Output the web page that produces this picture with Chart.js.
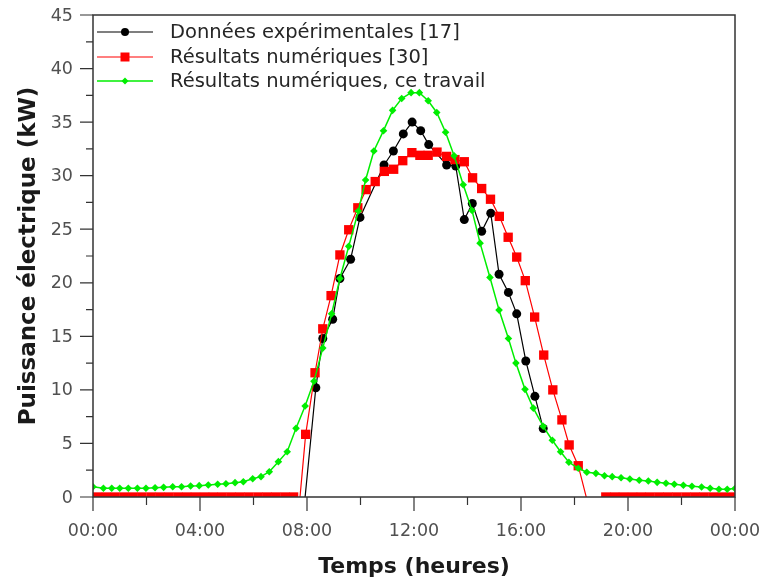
<!DOCTYPE html>
<html lang="fr">
<head>
<meta charset="utf-8">
<title>Puissance électrique</title>
<script src="https://cdn.jsdelivr.net/npm/chart.js@4.4.1/dist/chart.umd.min.js"></script>
<style>
  html, body { margin: 0; padding: 0; background: #fff; }
  #wrap { width: 766px; height: 580px; position: relative; }
</style>
</head>
<body>
<div id="wrap"><canvas id="powerChart" width="766" height="580"></canvas></div>
<script>
// Experimental data [17] : time (h) / power (kW)
const expTimes = [7.89, 8.33, 8.59, 8.96, 9.23, 9.63, 9.98, 10.88, 11.23, 11.60, 11.93, 12.25, 12.55,
  13.22, 13.56, 13.88, 14.18, 14.53, 14.87, 15.18, 15.53, 15.84, 16.18, 16.52, 16.83];
const expPower = [-1, 10.2, 14.8, 16.6, 20.4, 22.2, 26.1, 31.0, 32.3, 33.9, 35.0, 34.2, 32.9,
  31.0, 30.9, 25.9, 27.4, 24.8, 26.5, 20.8, 19.1, 17.1, 12.7, 9.4, 6.4];

// Numerical results [30]
const refTimes = [0.17, 0.50, 0.83, 1.17, 1.50, 1.83, 2.17, 2.50, 2.83, 3.17, 3.50, 3.83, 4.17, 4.50, 4.83,
  5.17, 5.50, 5.83, 6.17, 6.50, 6.83, 7.17, 7.50, 7.72,
  7.95, 8.30, 8.59, 8.90, 9.23, 9.56, 9.90, 10.21, 10.55, 10.89, 11.24, 11.58, 11.92, 12.22, 12.53, 12.86,
  13.22, 13.53, 13.88, 14.19, 14.53, 14.86, 15.19, 15.52, 15.84, 16.16, 16.51, 16.85, 17.19, 17.53, 17.80,
  18.14, 18.50,
  19.17, 19.50, 19.83, 20.17, 20.50, 20.83, 21.17, 21.50, 21.83, 22.17, 22.50, 22.83, 23.17, 23.50, 23.83];
const refPower = [0, 0, 0, 0, 0, 0, 0, 0, 0, 0, 0, 0, 0, 0, 0,
  0, 0, 0, 0, 0, 0, 0, 0, -0.5,
  5.85, 11.6, 15.7, 18.8, 22.6, 24.95, 27.0, 28.7, 29.45, 30.4, 30.6, 31.4, 32.15, 31.9, 31.9, 32.2,
  31.8, 31.5, 31.3, 29.8, 28.8, 27.8, 26.2, 24.25, 22.4, 20.2, 16.8, 13.25, 10.0, 7.2, 4.86,
  2.92, -0.6,
  0, 0, 0, 0, 0, 0, 0, 0, 0, 0, 0, 0, 0, 0, 0];

// Numerical results, this work
const simTimes = [0.00, 0.39, 0.70, 1.00, 1.32, 1.66, 1.98, 2.32, 2.64, 2.98, 3.31, 3.65, 3.97, 4.31, 4.66,
  4.97, 5.31, 5.62, 5.97, 6.28, 6.59, 6.93, 7.26, 7.59, 7.93, 8.26, 8.59, 8.92, 9.23, 9.56,
  9.92, 10.19, 10.50, 10.86, 11.20, 11.54, 11.89, 12.20, 12.53, 12.85, 13.18, 13.50, 13.84, 14.17, 14.47,
  14.84, 15.18, 15.53, 15.81, 16.15, 16.46, 16.83, 17.17, 17.48, 17.79, 18.14, 18.46, 18.80, 19.12, 19.41,
  19.74, 20.07, 20.42, 20.76, 21.09, 21.42, 21.73, 22.07, 22.39, 22.75, 23.07, 23.40, 23.71, 24.00];
const simPower = [0.96, 0.81, 0.81, 0.81, 0.81, 0.81, 0.81, 0.87, 0.90, 0.96, 0.96, 1.03, 1.06, 1.12, 1.19,
  1.24, 1.34, 1.43, 1.70, 1.90, 2.36, 3.30, 4.23, 6.41, 8.50, 10.8, 13.9, 17.1, 20.4, 23.4,
  26.7, 29.6, 32.3, 34.2, 36.1, 37.2, 37.75, 37.75, 37.0, 35.9, 34.05, 31.85, 29.15, 26.75, 23.7,
  20.5, 17.45, 14.8, 12.5, 10.05, 8.3, 6.6, 5.3, 4.23, 3.25, 2.68, 2.31, 2.21, 1.99, 1.90,
  1.80, 1.68, 1.56, 1.49, 1.37, 1.28, 1.19, 1.09, 1.00, 0.93, 0.81, 0.72, 0.72, 0.80];

const seriesNames = ['Données expérimentales [17]', 'Résultats numériques [30]', 'Résultats numériques, ce travail'];
const xTickHours = [0, 4, 8, 12, 16, 20, 24];
const xTickLabels = ['00:00', '04:00', '08:00', '12:00', '16:00', '20:00', '00:00'];
const yTickValues = [0, 5, 10, 15, 20, 25, 30, 35, 40, 45];
const xTitle = 'Temps (heures)';
const yTitle = 'Puissance électrique (kW)';

const FONT = '"DejaVu Sans", "Open Sans", sans-serif';
const AXIS_COLOR = '#333';

function zip(xs, ys) {
  return xs.map((x, i) => ({ x: x, y: ys[i] }));
}

// frame, major/minor tick marks, tick labels and axis titles
const frame = {
  id: 'frame',
  afterDatasetsDraw(chart) {
    const { ctx, chartArea: a, scales } = chart;
    ctx.save();
    ctx.strokeStyle = AXIS_COLOR;
    ctx.lineWidth = 1.5;
    ctx.strokeRect(a.left, a.top, a.right - a.left, a.bottom - a.top);
    ctx.lineWidth = 1.2;
    ctx.beginPath();
    for (let h = 0; h <= 24; h += 2) {
      const px = scales.x.getPixelForValue(h);
      const len = h % 4 === 0 ? 14 : 8;
      ctx.moveTo(px, a.bottom);
      ctx.lineTo(px, a.bottom + len);
    }
    for (let v = 0; v <= 45; v += 2.5) {
      const py = scales.y.getPixelForValue(v);
      const len = v % 5 === 0 ? 13 : 7;
      ctx.moveTo(a.left, py);
      ctx.lineTo(a.left - len, py);
    }
    ctx.stroke();

    ctx.fillStyle = '#505050';
    ctx.font = '17.5px ' + FONT;
    ctx.textBaseline = 'middle';
    ctx.textAlign = 'right';
    yTickValues.forEach(v => ctx.fillText(String(v), a.left - 20, scales.y.getPixelForValue(v) + 1));
    ctx.textAlign = 'center';
    xTickHours.forEach((h, i) => ctx.fillText(xTickLabels[i], scales.x.getPixelForValue(h), a.bottom + 34));

    ctx.fillStyle = '#1a1a1a';
    ctx.font = 'bold 22px ' + FONT;
    ctx.fillText(xTitle, (a.left + a.right) / 2, 567);
    ctx.font = 'bold 23px ' + FONT;
    ctx.translate(29, (a.top + a.bottom) / 2);
    ctx.rotate(-Math.PI / 2);
    ctx.fillText(yTitle, 0, 0);
    ctx.restore();
  }
};

// legend in the upper-left corner of the plot
const cornerLegend = {
  id: 'cornerLegend',
  afterDraw(chart) {
    const ctx = chart.ctx;
    const rows = [32, 57, 81];
    ctx.save();
    chart.data.datasets.forEach((ds, i) => {
      const y = rows[i];
      ctx.strokeStyle = ds.borderColor;
      ctx.lineWidth = ds.borderWidth;
      ctx.beginPath();
      ctx.moveTo(97, y);
      ctx.lineTo(153, y);
      ctx.stroke();
      ctx.fillStyle = ds.pointBackgroundColor;
      ctx.beginPath();
      if (ds.pointStyle === 'rect') {
        ctx.rect(125 - 4.5, y - 4.5, 9, 9);
      } else if (ds.pointStyle === 'rectRot') {
        ctx.moveTo(125, y - 3.5); ctx.lineTo(128.5, y); ctx.lineTo(125, y + 3.5); ctx.lineTo(121.5, y);
        ctx.closePath();
      } else {
        ctx.arc(125, y, 4, 0, Math.PI * 2);
      }
      ctx.fill();
      ctx.fillStyle = '#262626';
      ctx.font = '19.5px ' + FONT;
      ctx.textBaseline = 'middle';
      ctx.fillText(ds.label, 170, y + 1);
    });
    ctx.restore();
  }
};

const ctx = document.getElementById('powerChart').getContext('2d');
new Chart(ctx, {
  type: 'line',
  data: {
    datasets: [
      {
        label: seriesNames[0],
        data: zip(expTimes, expPower),
        borderColor: '#000000',
        backgroundColor: '#000000',
        pointBackgroundColor: '#000000',
        pointBorderWidth: 0,
        borderWidth: 1.2,
        pointStyle: 'circle',
        pointRadius: 4.5,
        order: 2,
        clip: 0
      },
      {
        label: seriesNames[1],
        data: zip(refTimes, refPower),
        borderColor: '#ff0000',
        backgroundColor: '#ff0000',
        pointBackgroundColor: '#ff0000',
        pointBorderWidth: 0,
        borderWidth: 1.2,
        pointStyle: 'rect',
        pointRadius: 6.6,
        order: 1,
        clip: 0
      },
      {
        label: seriesNames[2],
        data: zip(simTimes, simPower),
        borderColor: '#00ee00',
        backgroundColor: '#00ee00',
        pointBackgroundColor: '#00ee00',
        pointBorderWidth: 0,
        borderWidth: 1.5,
        pointStyle: 'rectRot',
        pointRadius: 3.8,
        order: 0,
        clip: 0
      }
    ]
  },
  options: {
    responsive: false,
    animation: false,
    events: [],
    layout: { padding: { top: 15, right: 31, left: 0, bottom: 0 } },
    plugins: {
      legend: { display: false },
      tooltip: { enabled: false }
    },
    scales: {
      x: {
        type: 'linear',
        min: 0,
        max: 24,
        afterFit: s => { s.height = 83; },
        border: { display: false },
        grid: { display: false, drawTicks: false },
        ticks: { display: false }
      },
      y: {
        min: 0,
        max: 45,
        afterFit: s => { s.width = 93; },
        border: { display: false },
        grid: { display: false, drawTicks: false },
        ticks: { display: false }
      }
    }
  },
  plugins: [frame, cornerLegend]
});
</script>
</body>
</html>
